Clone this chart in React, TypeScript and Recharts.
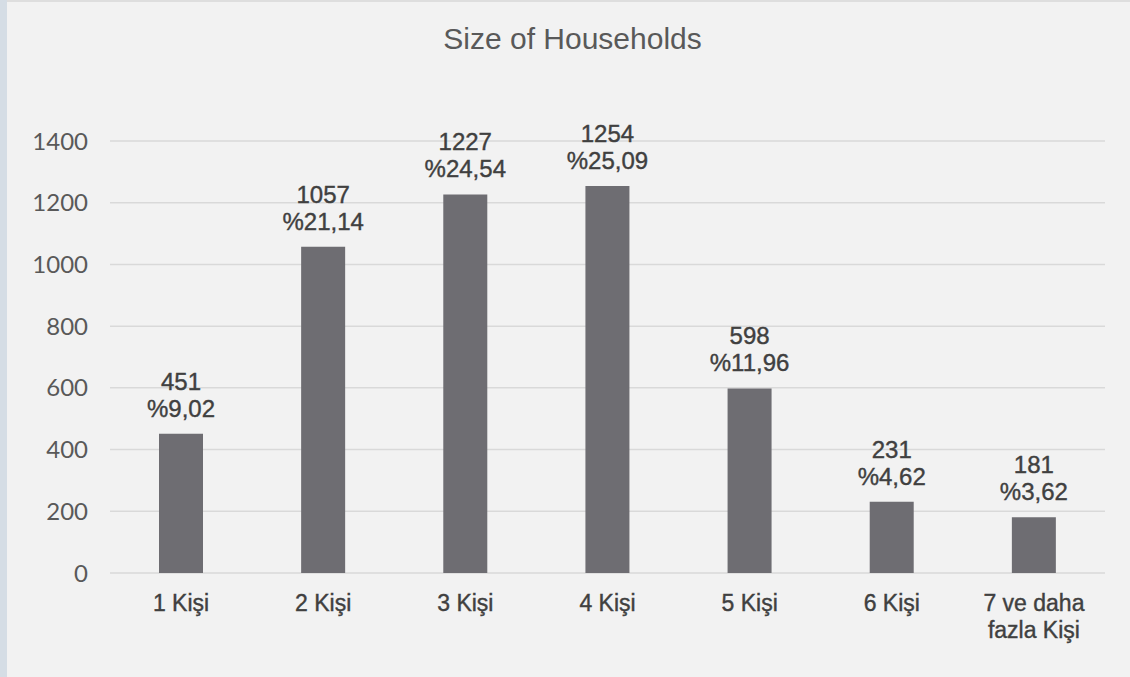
import React from "react";
import { BarChart, Bar, XAxis, YAxis, CartesianGrid, LabelList } from "recharts";

// household size categories and counts
const categories = ["1 Kişi", "2 Kişi", "3 Kişi", "4 Kişi", "5 Kişi", "6 Kişi", "7 ve daha fazla Kişi"];
const households = [451, 1057, 1227, 1254, 598, 231, 181];
const shares = ["9,02", "21,14", "24,54", "25,09", "11,96", "4,62", "3,62"];
const yTicks = [0, 200, 400, 600, 800, 1000, 1200, 1400];

const data = categories.map((name, i) => ({ name, count: households[i], share: shares[i] }));

const LABEL_FONT = "'Liberation Sans', Arial, sans-serif";
const INK = "#404040";

function wrap(text: string, max: number): string[] {
  const lines: string[] = [];
  let cur = "";
  for (const w of text.split(" ")) {
    const next = cur ? cur + " " + w : w;
    if (next.length > max && cur) {
      lines.push(cur);
      cur = w;
    } else {
      cur = next;
    }
  }
  if (cur) lines.push(cur);
  return lines;
}

function CategoryTick(props: any) {
  const { x, y, payload } = props;
  const lines = wrap(String(payload.value), 10);
  return (
    <text
      x={x}
      y={y}
      textAnchor="middle"
      fill={INK}
      stroke={INK}
      strokeWidth={0.4}
      fontSize={23}
      fontFamily={LABEL_FONT}
    >
      {lines.map((l, i) => (
        <tspan key={i} x={x} dy={i === 0 ? 38 : 27}>
          {l}
        </tspan>
      ))}
    </text>
  );
}

function ValueLabel(props: any) {
  const { x, y, width, index } = props;
  const cx = x + width / 2;
  return (
    <text
      x={cx}
      y={y}
      textAnchor="middle"
      fill={INK}
      stroke={INK}
      strokeWidth={0.4}
      fontSize={24}
      fontFamily={LABEL_FONT}
    >
      <tspan x={cx} dy={-44}>{households[index]}</tspan>
      <tspan x={cx} dy={27}>%{shares[index]}</tspan>
    </text>
  );
}

export default function App() {
  return (
    <div
      style={{
        position: "absolute",
        left: 0,
        top: 0,
        width: 1130,
        height: 677,
        background: "#f2f2f2",
        overflow: "hidden",
      }}
    >
      <div style={{ position: "absolute", left: 0, top: 0, width: 7, height: 677, background: "#d5dde5" }} />
      <div style={{ position: "absolute", left: 7, top: 0, width: 1123, height: 2, background: "#dedede" }} />
      <div
        style={{
          position: "absolute",
          left: 0,
          top: 24,
          width: 1145,
          textAlign: "center",
          fontFamily: LABEL_FONT,
          fontSize: 30,
          lineHeight: "30px",
          color: "#595959",
        }}
      >
        Size of Households
      </div>
      <div style={{ position: "absolute", left: 0, top: 0 }}>
        <BarChart
          width={1130}
          height={677}
          data={data}
          margin={{ top: 141, right: 25, bottom: 44, left: 0 }}
          barCategoryGap={0}
        >
          <CartesianGrid vertical={false} stroke="#d9d9d9" strokeWidth={1.5} />
          <XAxis
            dataKey="name"
            axisLine={false}
            tickLine={false}
            tickSize={0}
            tickMargin={0}
            height={60}
            interval={0}
            tick={<CategoryTick />}
          />
          <YAxis
            domain={[0, 1400]}
            ticks={yTicks}
            axisLine={false}
            tickLine={false}
            tickSize={0}
            tickMargin={22}
            width={110}
            tick={{ fontSize: 24, fill: "#595959", fontFamily: "Lato, sans-serif" }}
          />
          <Bar dataKey="count" fill="#6e6d72" barSize={44} isAnimationActive={false}>
            <LabelList dataKey="count" content={<ValueLabel />} />
          </Bar>
        </BarChart>
      </div>
    </div>
  );
}
